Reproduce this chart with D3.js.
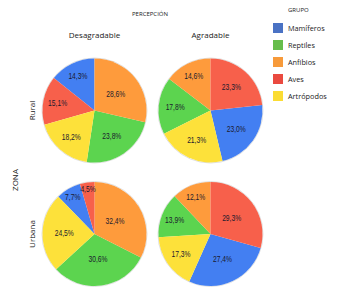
<!DOCTYPE html>
<html>
<head>
<meta charset="utf-8">
<script src="https://cdn.jsdelivr.net/npm/d3@7"></script>
<style>
  body { margin: 0; background: #fff; }
  text { font-family: "Open Sans", "Noto Sans", sans-serif; fill: #222; }
  .pct { font-family: "Liberation Sans", Arial, sans-serif; font-size: 8.6px; fill: #1b1b2e; }
</style>
</head>
<body>
<div id="chart"></div>
<script>
const grupos = ["Mamíferos", "Reptiles", "Anfibios", "Aves", "Artrópodos"];
const percepciones = ["Desagradable", "Agradable"];
const zonas = ["Rural", "Urbana"];

// porcentajes por grupo, en el orden de `grupos`
const ruralDesagradable = [14.3, 23.8, 28.6, 15.1, 18.2];
const ruralAgradable = [23.0, 17.8, 14.6, 23.3, 21.3];
const urbanaDesagradable = [7.7, 30.6, 32.4, 4.5, 24.5];
const urbanaAgradable = [27.4, 13.9, 12.1, 29.3, 17.3];

const sliceColors = ["#437ff2", "#5cd44f", "#fe9b3c", "#f7604b", "#fde13a"];
const legendColors = ["#4a72c4", "#66bd4b", "#f79a3a", "#ea4a40", "#fbdc33"];

const panels = [
  { zona: "Rural", perc: "Desagradable", values: ruralDesagradable },
  { zona: "Rural", perc: "Agradable", values: ruralAgradable },
  { zona: "Urbana", perc: "Desagradable", values: urbanaDesagradable },
  { zona: "Urbana", perc: "Agradable", values: urbanaAgradable }
];

const width = 340, height = 302, radius = 52;

const x = d3.scalePoint().domain(percepciones).range([94.5, 210.5]);
const y = d3.scalePoint().domain(zonas).range([110.5, 234]);
const color = d3.scaleOrdinal().domain(grupos).range(sliceColors);
const legendColor = d3.scaleOrdinal().domain(grupos).range(legendColors);

const svg = d3.select("#chart").append("svg")
  .attr("width", width)
  .attr("height", height);

const pie = d3.pie()
  .value(d => d.value)
  .sort((a, b) => b.value - a.value);

const arc = d3.arc().innerRadius(0).outerRadius(radius);
const fmt = v => v.toFixed(1).replace(".", ",") + "%";

panels.forEach(p => {
  const data = grupos.map((g, i) => ({ grupo: g, value: p.values[i] }));
  const total = d3.sum(data, d => d.value);
  const g = svg.append("g")
    .attr("transform", `translate(${x(p.perc)},${y(p.zona)})`);

  g.append("circle")
    .attr("r", radius + 0.5)
    .attr("fill", "none")
    .attr("stroke", "#e0e0e0")
    .attr("stroke-width", 1);

  const slices = pie(data);

  g.selectAll("path")
    .data(slices)
    .join("path")
    .attr("d", arc)
    .attr("fill", d => color(d.data.grupo));

  // small slices get their label pushed outward
  g.selectAll("text")
    .data(slices)
    .join("text")
    .attr("class", "pct")
    .attr("transform", d => {
      const share = d.data.value / total;
      const r = radius * (0.95 - 1.5 * share);
      const a = (d.startAngle + d.endAngle) / 2;
      return `translate(${r * Math.sin(a)},${-r * Math.cos(a)}) scale(0.78,1)`;
    })
    .attr("text-anchor", "middle")
    .attr("dy", "0.35em")
    .text(d => fmt(d.data.value));
});

// column titles
svg.append("text")
  .attr("x", 150).attr("y", 16)
  .attr("text-anchor", "middle")
  .style("font-size", "6px")
  .text("PERCEPCIÓN");

svg.selectAll(".col")
  .data(percepciones)
  .join("text")
  .attr("class", "col")
  .attr("x", d => x(d))
  .attr("y", 38)
  .attr("text-anchor", "middle")
  .style("font-size", "8px")
  .text(d => d);

// row titles
svg.selectAll(".row")
  .data(zonas)
  .join("text")
  .attr("class", "row")
  .attr("transform", d => `translate(35,${y(d)}) rotate(-90)`)
  .attr("text-anchor", "middle")
  .style("font-size", "8px")
  .text(d => d);

svg.append("text")
  .attr("transform", "translate(18,180) rotate(-90)")
  .attr("text-anchor", "middle")
  .style("font-size", "8px")
  .text("ZONA");

// legend
svg.append("text")
  .attr("x", 288).attr("y", 12)
  .style("font-size", "6px")
  .text("GRUPO");

const legend = svg.selectAll(".legend")
  .data(grupos)
  .join("g")
  .attr("class", "legend")
  .attr("transform", (d, i) => `translate(273,${23 + i * 17})`);

legend.append("rect")
  .attr("width", 10)
  .attr("height", 10)
  .attr("fill", d => legendColor(d));

legend.append("text")
  .attr("x", 15)
  .attr("y", 5)
  .attr("dy", "0.35em")
  .style("font-size", "7.3px")
  .text(d => d);
</script>
</body>
</html>
